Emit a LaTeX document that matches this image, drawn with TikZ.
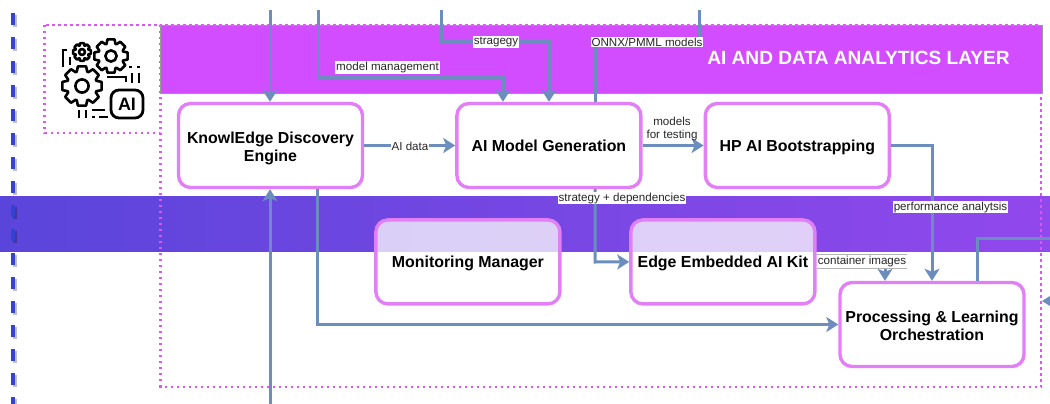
\documentclass[tikz,border=0pt]{standalone}
\usepackage{fontspec}
\setmainfont{Liberation Sans}
\usetikzlibrary{shapes,arrows.meta,positioning}
\definecolor{layerpurple}{HTML}{D24DFF}
\definecolor{boxpink}{HTML}{E27FF7}
\definecolor{dotpink}{HTML}{DD55F5}
\definecolor{linkblue}{HTML}{6C8EBF}
\definecolor{railblue}{HTML}{3344D4}
\definecolor{bandleft}{HTML}{5A45DA}
\definecolor{bandright}{HTML}{9148EC}
% one toothed wheel of the icon: centre x, centre y, outer radius
\newcommand{\gearwheel}[3]{%
  \draw[iconline,shift={(#1,#2)}] (-12:#3)
    \foreach \a in {0,45,...,315} {
      -- (\a-12:#3) -- (\a+12:#3) -- (\a+20:#3*0.76) -- (\a+25:#3*0.76)
    } -- cycle (0,0) circle ({#3*0.33});
}
% taller first line, so that the text of a box sits a little lower
\newcommand{\boxstrut}[1]{\rule{0pt}{#1pt}}

\begin{document}
\begin{tikzpicture}[%
    x=1pt,y=-1pt,               % One unit is one pixel of the layout
    >={Stealth[length=12pt,width=15pt,inset=3pt]},
    node distance=29pt and 61pt,
    ]
% -------------------------------------------------
% Box and connector styles
\tikzset{
  base/.style={align=center, font=\fontsize{15.9}{18}\selectfont\bfseries},
  box/.style={base, draw=boxpink, line width=3.4pt, rounded corners=12pt,
    fill=white, fill opacity=0.75, text opacity=1,
    minimum width=184pt, minimum height=84pt},
  conn/.style={->, draw=linkblue, line width=3pt},
  plain/.style={draw=linkblue, line width=3pt},
  lab/.style={fill=white, text=black!85, inner sep=1pt, align=center,
    font=\fontsize{11.6}{13}\selectfont},
  frame/.style={draw=dotpink, line width=2.4pt, dash pattern=on 2.4pt off 3.6pt},
  iconline/.style={draw=black, line width=2.6pt, line join=round},
  iconbar/.style={draw=black, line width=2.8pt}
}
\useasboundingbox (0,0) rectangle (1050,404);
% -------------------------------------------------
% Bands and dotted frames
\node [draw=none, inner sep=0, minimum width=1050pt, minimum height=55pt,
  left color=bandleft, right color=bandright] (band) at (525,223.5) {};
\draw [frame] (160.5,25) rectangle (1041,387);
\draw [frame] (44.5,25) rectangle (160.5,133);
\node [fill=layerpurple, draw=black!40, line width=0.8pt, inner sep=0,
  minimum width=882pt, minimum height=68pt] (header) at (601,59) {};
\node [text=white, font=\fontsize{19.1}{22}\selectfont\bfseries] (title) at (858.5,58)
  {AI AND DATA ANALYTICS LAYER};

% Dashed rail on the left
\coordinate (railtop) at (13,13);
\coordinate (railend) at (13,404);
\draw [black, opacity=0.25, line width=4pt, dash pattern=on 12pt off 12pt]
  ([shift={(1.8,1.8)}]railtop) -- ([shift={(1.8,1.8)}]railend);
\draw [railblue, line width=4pt, dash pattern=on 12pt off 12pt] (railtop) -- (railend);

% Icon
\gearwheel{82}{86}{20}
\gearwheel{111}{56}{17}
\gearwheel{82}{52}{9}
\node [draw=black, line width=2.8pt, rounded corners=8pt, minimum width=32pt,
  minimum height=28pt, inner sep=0, font=\fontsize{18}{18}\selectfont\bfseries] (badge)
  at (127,104) {AI};
\draw [iconbar] (67,50) -- (63,50) -- (63,67);
\draw [iconbar] (70,57) -- (70,65);
\draw [iconbar] (107,77) -- (126,77) -- (126,82);
\draw [iconbar] (132,73) -- (132,83);
\draw [iconbar] (139,73) -- (139,83);
\draw [iconbar] (129,67) -- (132,67);
\draw [iconbar] (137,67) -- (140,67);
\draw [iconbar] (79,110) -- (79,118);
\draw [iconbar] (86,110) -- (86,118);
\draw [iconbar] (92,110) -- (105,110);
\draw [iconbar] (92,117) -- (95,117);
\draw [iconbar] (99,117) -- (108,117);

% -------------------------------------------------
% Start by placing the nodes
\node [box] (engine) at (270.5,145.5) {\boxstrut{18}KnowlEdge Discovery\\Engine};
\node [box, right=91pt of engine] (gen) {AI Model Generation};
\node [box, right=of gen] (boot) {\boxstrut{15}HP AI Bootstrapping};
\node [box, below=of gen, xshift=-81pt] (monitor) {\boxstrut{15}Monitoring Manager};
\node [box, below=of gen, xshift=174pt] (kit) {\boxstrut{15}Edge Embedded AI Kit};
\node [box] (proc) at (932,324.5) {\boxstrut{14}Processing \& Learning\\Orchestration};

% Free ends of the connectors
\coordinate (enginein) at (270,10);
\coordinate (mgmtin) at (318,10);
\coordinate (mgmtbend) at (503,78);
\coordinate (stratin) at (441,10);
\coordinate (stratbend) at (549,42);
\coordinate (onnxbase) at (595,42);
\coordinate (onnxout) at (699,10);
\coordinate (depsdrop) at (595,262);
\coordinate (perfbend) at (932,146);
\coordinate (contbend) at (885,262);
\coordinate (enginelow) at (270,404);
\coordinate (procout) at (1050,238);
\coordinate (procup) at (977,238);
\coordinate (procin) at (1050,301);
\coordinate (frameedge) at (1042,301);

\draw[conn] (enginein) -- (enginein |- engine.north);
\draw[conn] (enginelow) -- (enginelow |- engine.south);
\draw[conn] (mgmtin) |- (mgmtbend) -- (mgmtbend |- gen.north);
\draw[conn] (stratin) |- (stratbend) -- (stratbend |- gen.north);
\draw[plain] (onnxbase |- gen.north) -- (onnxbase) -| (onnxout);
\draw[conn] (engine) -- (gen);
\draw[conn] (gen) -- (boot);
\draw[conn] (onnxbase |- gen.south) -- (depsdrop) -- (kit.west);
\draw[conn] (boot.east) -| (perfbend |- proc.north);
\draw[conn] (kit.east) -| (contbend |- proc.north);
\draw[conn] (engine.south -| 317,0) |- (proc.west);
\draw[plain] (procup |- proc.north) -- (procup) -- (procout);
\draw[conn] (procin) -- (frameedge);

% Connector labels
\node [lab] (mgmtlab) at (387.5,67.5) {model management};
\node [lab] (stratlab) at (496,42) {stragegy};
\node [lab] (onnxlab) at (647,42) {ONNX/PMML models};
\node [lab] (datalab) at (410,146) {AI data};
\node [lab, fill=none] (testlab) at (672,129) {models\\for testing};
\node [lab] (depslab) at (622,198) {strategy + dependencies};
\node [lab] (perflab) at (950.5,207) {performance analytsis};
\node [lab, minimum height=14pt] (contlab) at (862,261) {container images};
\draw [black!30, line width=0.6pt] (contlab.north west) -- (contlab.north east)
  (contlab.south west) -- (contlab.south east);
% -------------------------------------------------
\end{tikzpicture}
\end{document}
